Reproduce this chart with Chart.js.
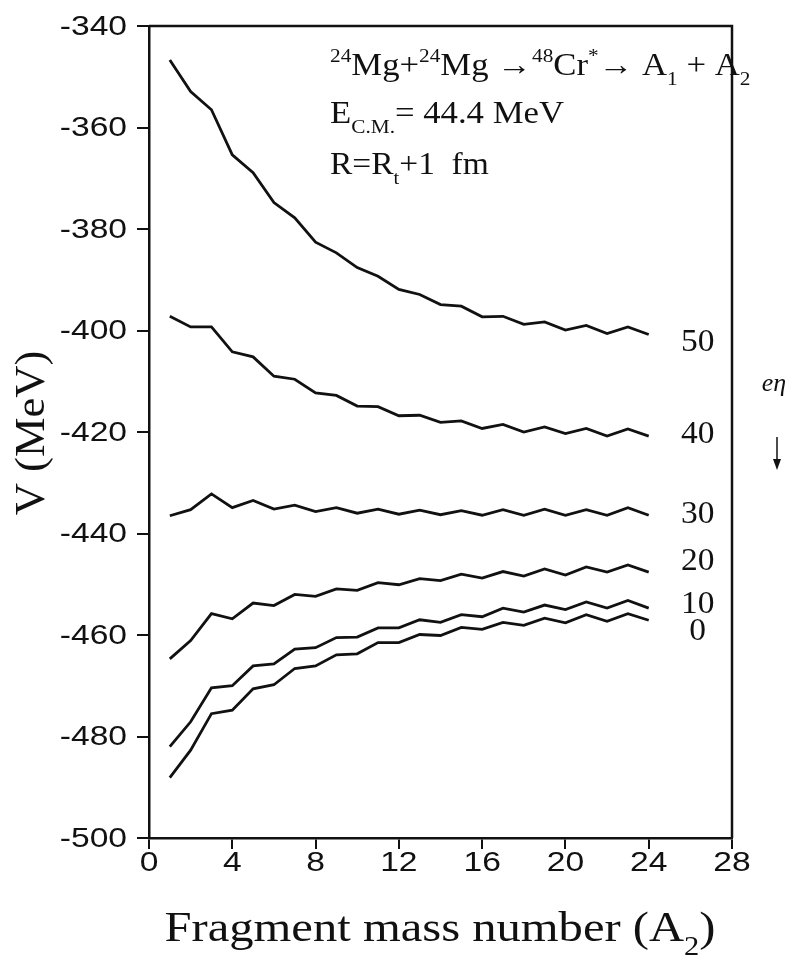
<!DOCTYPE html>
<html>
<head>
<meta charset="utf-8">
<script src="https://cdn.jsdelivr.net/npm/chart.js@4.4.1/dist/chart.umd.min.js"></script>
<style>
  html, body { margin: 0; padding: 0; background: #ffffff; }
  #wrap { width: 785px; height: 966px; }
</style>
</head>
<body>
<div id="wrap"><canvas id="c" width="785" height="966"></canvas></div>
<script>
// ---- data ----
const fragmentA = [1,2,3,4,5,6,7,8,9,10,11,12,13,14,15,16,17,18,19,20,21,22,23,24];
const ellLabels = ['50','40','30','20','10','0'];
const V_l50 = [-346.7,-352.9,-356.5,-365.4,-368.9,-374.8,-377.8,-382.6,-384.7,-387.6,-389.3,-391.9,-392.9,-394.9,-395.2,-397.3,-397.2,-398.8,-398.3,-399.9,-399.0,-400.6,-399.3,-400.8];
const V_l40 = [-397.2,-399.3,-399.3,-404.2,-405.2,-409.0,-409.6,-412.3,-412.8,-414.9,-415.0,-416.8,-416.7,-418.1,-417.8,-419.3,-418.5,-420.0,-419.0,-420.3,-419.3,-420.8,-419.4,-420.8];
const V_l30 = [-436.5,-435.3,-432.2,-434.9,-433.5,-435.2,-434.4,-435.7,-434.9,-436.0,-435.2,-436.2,-435.4,-436.3,-435.5,-436.4,-435.3,-436.4,-435.2,-436.4,-435.3,-436.4,-434.9,-436.4];
const V_l20 = [-464.7,-461.1,-455.8,-456.8,-453.7,-454.2,-452.0,-452.4,-450.9,-451.2,-449.7,-450.1,-448.9,-449.3,-448.0,-448.8,-447.5,-448.4,-447.0,-448.2,-446.6,-447.6,-446.2,-447.6];
const V_l10 = [-482.0,-477.1,-470.4,-470.0,-466.1,-465.7,-462.8,-462.5,-460.5,-460.4,-458.6,-458.6,-457.0,-457.5,-456.0,-456.4,-454.7,-455.5,-454.1,-455.0,-453.5,-454.7,-453.2,-454.7];
const V_l0  = [-488.1,-482.7,-475.5,-474.8,-470.6,-469.8,-466.6,-466.1,-463.9,-463.7,-461.5,-461.5,-459.9,-460.1,-458.5,-458.9,-457.5,-458.1,-456.7,-457.6,-456.0,-457.3,-455.8,-457.1];
const xTicks = [0,4,8,12,16,20,24,28];
const yTicks = [-500,-480,-460,-440,-420,-400,-380,-360,-340];
// vertical nudges (MeV) for the curve labels relative to each curve's last point
const labelNudge = [1.7, -0.2, 0.0, -2.0, -0.6, 2.3];

const seriesList = [V_l50, V_l40, V_l30, V_l20, V_l10, V_l0];

const datasets = seriesList.map((vals, i) => ({
  label: 'l=' + ellLabels[i],
  data: fragmentA.map((a, k) => ({x: a, y: vals[k]})),
  borderColor: '#111111',
  borderWidth: 2.8,
  pointRadius: 0,
  tension: 0,
  fill: false
}));

const SERIF = '"Liberation Serif", "Times New Roman", serif';
const SANS = '"Liberation Sans", Arial, sans-serif';

function richWidth(ctx, parts, size) {
  let w = 0;
  parts.forEach(p => {
    const fs = (p.t === 'sup' || p.t === 'sub') ? Math.round(size * 0.62) : size;
    ctx.font = fs + 'px ' + SERIF;
    w += ctx.measureText(p.s).width;
  });
  return w;
}

function drawRich(ctx, x, y, parts, size, sx) {
  ctx.save();
  ctx.translate(x, y);
  ctx.scale(sx || 1, 1);
  let cx = 0;
  parts.forEach(p => {
    let fs = size, dy = 0;
    if (p.t === 'sup') { fs = Math.round(size * 0.62); dy = -size * 0.42; }
    if (p.t === 'sub') { fs = Math.round(size * 0.62); dy = size * 0.32; }
    ctx.font = fs + 'px ' + SERIF;
    ctx.fillText(p.s, cx, dy);
    cx += ctx.measureText(p.s).width;
  });
  ctx.restore();
}

function stretchText(ctx, txt, x, y, sx, align) {
  ctx.save();
  ctx.translate(x, y);
  ctx.scale(sx, 1);
  ctx.textAlign = align;
  ctx.fillText(txt, 0, 0);
  ctx.restore();
}

const decor = {
  id: 'decor',
  afterDraw(chart) {
    const ctx = chart.ctx;
    const ca = chart.chartArea;
    const xs = chart.scales.x, ys = chart.scales.y;
    ctx.save();
    // frame (top and right sides)
    ctx.strokeStyle = '#111';
    ctx.lineWidth = 2.5;
    ctx.beginPath();
    ctx.moveTo(ca.left, ca.top);
    ctx.lineTo(ca.right, ca.top);
    ctx.lineTo(ca.right, ca.bottom);
    ctx.stroke();

    ctx.fillStyle = '#111';

    // tick labels (wide sans, as in the scanned figure)
    ctx.font = '28px ' + SANS;
    ctx.textBaseline = 'middle';
    ys.ticks.forEach(t => {
      stretchText(ctx, String(t.value), ca.left - 22, ys.getPixelForValue(t.value) + 1, 1.2, 'right');
    });
    xs.ticks.forEach(t => {
      stretchText(ctx, String(t.value), xs.getPixelForValue(t.value), ca.bottom + 25, 1.2, 'center');
    });

    ctx.textBaseline = 'alphabetic';
    ctx.textAlign = 'left';
    // header annotation
    drawRich(ctx, 330, 75, [
      {t:'sup', s:'24'}, {s:'Mg+'}, {t:'sup', s:'24'}, {s:'Mg \u2192'},
      {t:'sup', s:'48'}, {s:'Cr'}, {t:'sup', s:'*'}, {s:'\u2192 A'},
      {t:'sub', s:'1'}, {s:' + A'}, {t:'sub', s:'2'}
    ], 31, 1.12);
    drawRich(ctx, 330, 123, [
      {s:'E'}, {t:'sub', s:'C.M.'}, {s:'= 44.4 MeV'}
    ], 31, 1.12);
    drawRich(ctx, 330, 174, [
      {s:'R=R'}, {t:'sub', s:'t'}, {s:'+1  fm'}
    ], 31, 1.08);

    // curve labels
    ctx.font = '31px ' + SERIF;
    ctx.textBaseline = 'middle';
    seriesList.forEach((vals, i) => {
      const last = vals[vals.length - 1];
      const px = xs.getPixelForValue(fragmentA[fragmentA.length - 1]) + 49;
      const py = ys.getPixelForValue(last - labelNudge[i]);
      stretchText(ctx, ellLabels[i], px, py, 1.08, 'center');
    });

    // handwritten-like mark
    ctx.font = 'italic 26px ' + SERIF;
    ctx.textAlign = 'center';
    ctx.fillText('e\u03B7', 774, 384);

    // small arrow outside the frame
    ctx.lineWidth = 1.5;
    ctx.beginPath();
    ctx.moveTo(777, 437);
    ctx.lineTo(777, 462);
    ctx.stroke();
    ctx.beginPath();
    ctx.moveTo(773, 459);
    ctx.lineTo(781, 459);
    ctx.lineTo(777, 470);
    ctx.closePath();
    ctx.fill();

    // y-axis title
    ctx.save();
    ctx.translate(33, 433);
    ctx.rotate(-Math.PI / 2);
    ctx.scale(1.06, 1);
    ctx.font = '42px ' + SERIF;
    ctx.textAlign = 'center';
    ctx.textBaseline = 'middle';
    ctx.fillText('V (MeV)', 0, 0);
    ctx.restore();

    // x-axis title
    ctx.textAlign = 'left';
    ctx.textBaseline = 'alphabetic';
    const parts = [{s:'Fragment mass number (A'}, {t:'sub', s:'2'}, {s:')'}];
    const sx = 1.13;
    const w = richWidth(ctx, parts, 43) * sx;
    drawRich(ctx, 440 - w / 2, 941, parts, 43, sx);
    ctx.restore();
  }
};

new Chart(document.getElementById('c'), {
  type: 'line',
  data: { datasets },
  options: {
    responsive: false,
    animation: false,
    devicePixelRatio: 1,
    layout: { padding: { top: 26, right: 53, left: 0, bottom: 0 } },
    plugins: { legend: { display: false }, tooltip: { enabled: false } },
    scales: {
      x: {
        type: 'linear', min: 0, max: 28,
        afterBuildTicks(s) { s.ticks = xTicks.map(v => ({value: v})); },
        afterFit(s) { s.height = 128; },
        ticks: { display: false },
        grid: { drawOnChartArea: false, drawTicks: true, tickLength: 11, color: '#111', lineWidth: 2 },
        border: { color: '#111', width: 2.5 }
      },
      y: {
        type: 'linear', min: -500, max: -340,
        afterBuildTicks(s) { s.ticks = yTicks.map(v => ({value: v})); },
        afterFit(s) { s.width = 149; },
        ticks: { display: false },
        grid: { drawOnChartArea: false, drawTicks: true, tickLength: 12, color: '#111', lineWidth: 2 },
        border: { color: '#111', width: 2.5 }
      }
    }
  },
  plugins: [decor]
});
</script>
</body>
</html>
